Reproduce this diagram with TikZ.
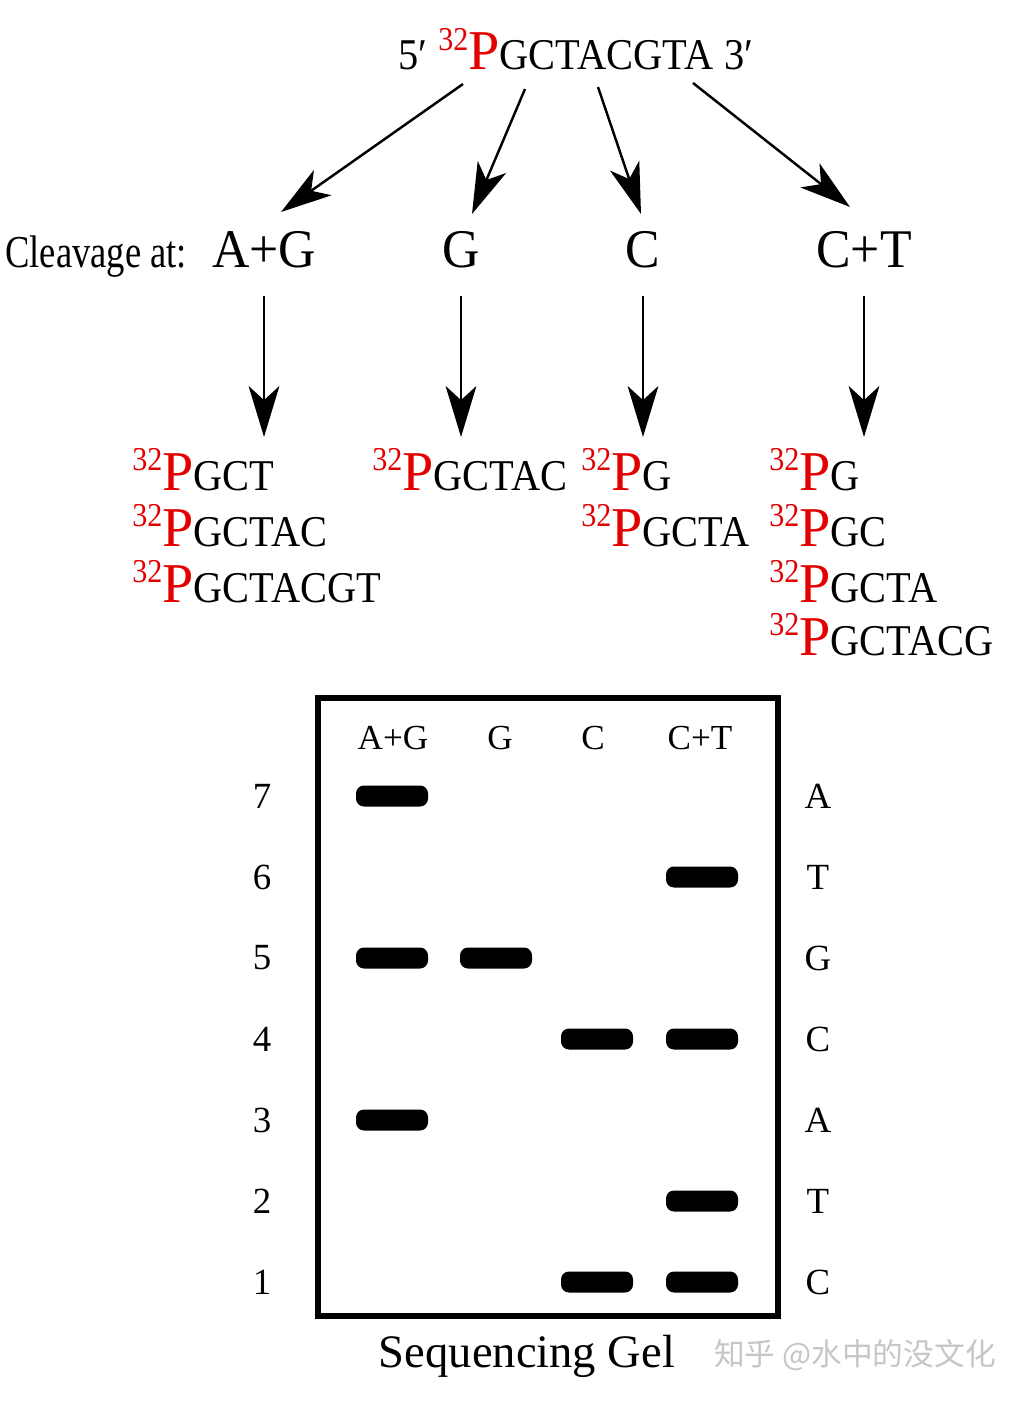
\documentclass[tikz,border=0pt]{standalone}
\usepackage{fontspec}
\setmainfont{Liberation Serif}
\newfontfamily\cjk{Noto Sans CJK SC}
\usetikzlibrary{arrows.meta}
\definecolor{labred}{RGB}{226,0,0}
\newcommand{\plab}[1]{\textcolor{labred}{\raisebox{11.3pt}{\scalebox{0.9}[1]{\fontsize{19}{19}\selectfont 32}}\fontsize{32}{32}\selectfont P}\scalebox{0.92}[1]{#1}}
\tikzset{
  seqtext/.style={anchor=base west, inner sep=0pt, font=\fontsize{25}{25}\selectfont},
  cleave/.style={anchor=base, inner sep=0pt, font=\fontsize{31}{31}\selectfont},
  arr/.style={line width=1.4pt, -{Stealth[length=29pt, width=17.5pt, inset=8pt]}},
  gelbox/.style={draw, line width=3pt, inner sep=0pt, minimum width=9.2cm, minimum height=12.36cm},
  lane/.style={anchor=base, inner sep=0pt, font=\fontsize{20}{20}\selectfont},
  gelnum/.style={inner sep=0pt, font=\fontsize{21}{21}\selectfont},
  band/.style={fill=black, inner sep=0pt, rounded corners=4.5pt, minimum width=1.44cm, minimum height=0.42cm}
}

\begin{document}
\begin{tikzpicture}[x=0.02cm, y=-0.02cm]
   \useasboundingbox (0,0) rectangle (1024,1405);
   % labelled strand
   \node[seqtext] (seq) at (398,70) {\scalebox{0.92}[1]{5′} \plab{GCTACGTA} \scalebox{0.92}[1]{3′}};
   % cleavage reactions
   \node[anchor=base west, inner sep=0pt, font=\fontsize{26}{26}\selectfont] (cleav) at (5,268) {\scalebox{0.8}[1]{Cleavage at:}};
   \node[cleave] (ag) at (264,268) {\scalebox{0.95}[1]{A+G}};
   \node[cleave] (g) at (461,268) {\scalebox{0.95}[1]{G}};
   \node[cleave] (c) at (643,268) {\scalebox{0.95}[1]{C}};
   \node[cleave] (ct) at (864,268) {\scalebox{0.95}[1]{C+T}};
   \coordinate (top1) at (463,84);
   \coordinate (top2) at (525,89);
   \coordinate (top3) at (598,87);
   \coordinate (top4) at (693,83);
   \coordinate (in1) at (281,212);
   \coordinate (in2) at (472,214);
   \coordinate (in3) at (641,214);
   \coordinate (in4) at (850,207);
   \draw[arr] (top1) -- (in1);
   \draw[arr] (top2) -- (in2);
   \draw[arr] (top3) -- (in3);
   \draw[arr] (top4) -- (in4);
   \coordinate (tips) at (0,437);
   \draw[arr] ([yshift=-0.56cm]ag.base) -- (ag.base |- tips);
   \draw[arr] ([yshift=-0.56cm]g.base) -- (g.base |- tips);
   \draw[arr] ([yshift=-0.56cm]c.base) -- (c.base |- tips);
   \draw[arr] ([yshift=-0.56cm]ct.base) -- (ct.base |- tips);
   % fragments
   \node[seqtext] (agf1) at (132,490) {\plab{GCT}};
   \node[seqtext] (agf2) at (132,546) {\plab{GCTAC}};
   \node[seqtext] (agf3) at (132,602) {\plab{GCTACGT}};
   \node[seqtext] (gf1) at (372,490) {\plab{GCTAC}};
   \node[seqtext] (cf1) at (581,490) {\plab{G}};
   \node[seqtext] (cf2) at (581,546) {\plab{GCTA}};
   \node[seqtext] (ctf1) at (769,490) {\plab{G}};
   \node[seqtext] (ctf2) at (769,546) {\plab{GC}};
   \node[seqtext] (ctf3) at (769,602) {\plab{GCTA}};
   \node[seqtext] (ctf4) at (769,655) {\plab{GCTACG}};
   % gel
   \node[gelbox] (gel) at (548,1007) {};
   \node[lane] (hag) at (393,749) {A+G};
   \node[lane] (hg) at (500,749) {G};
   \node[lane] (hc) at (593,749) {C};
   \node[lane] (hct) at (700,749) {C+T};
   \node[gelnum] (n7) at (262,796) {7};
   \node[gelnum] (n6) at (262,877) {6};
   \node[gelnum] (n5) at (262,958) {5};
   \node[gelnum] (n4) at (262,1039) {4};
   \node[gelnum] (n3) at (262,1120) {3};
   \node[gelnum] (n2) at (262,1201) {2};
   \node[gelnum] (n1) at (262,1282) {1};
   \node[gelnum] (r7) at (818,796) {A};
   \node[gelnum] (r6) at (818,877) {T};
   \node[gelnum] (r5) at (818,958) {G};
   \node[gelnum] (r4) at (818,1039) {C};
   \node[gelnum] (r3) at (818,1120) {A};
   \node[gelnum] (r2) at (818,1201) {T};
   \node[gelnum] (r1) at (818,1282) {C};
   \node[band] (b7ag) at (392,796) {};
   \node[band] (b6ct) at (702,877) {};
   \node[band] (b5ag) at (392,958) {};
   \node[band] (b5g) at (496,958) {};
   \node[band] (b4c) at (597,1039) {};
   \node[band] (b4ct) at (702,1039) {};
   \node[band] (b3ag) at (392,1120) {};
   \node[band] (b2ct) at (702,1201) {};
   \node[band] (b1c) at (597,1282) {};
   \node[band] (b1ct) at (702,1282) {};
   \node[anchor=base, inner sep=0pt, font=\fontsize{26.5}{26.5}\selectfont] (gellab) at (527,1367) {Sequencing Gel};
   \node[inner sep=0pt, text=gray!45, font=\cjk\fontsize{17.5}{17.5}\selectfont] (mark) at (855,1355) {知乎 @水中的没文化};
\end{tikzpicture}
\end{document}
